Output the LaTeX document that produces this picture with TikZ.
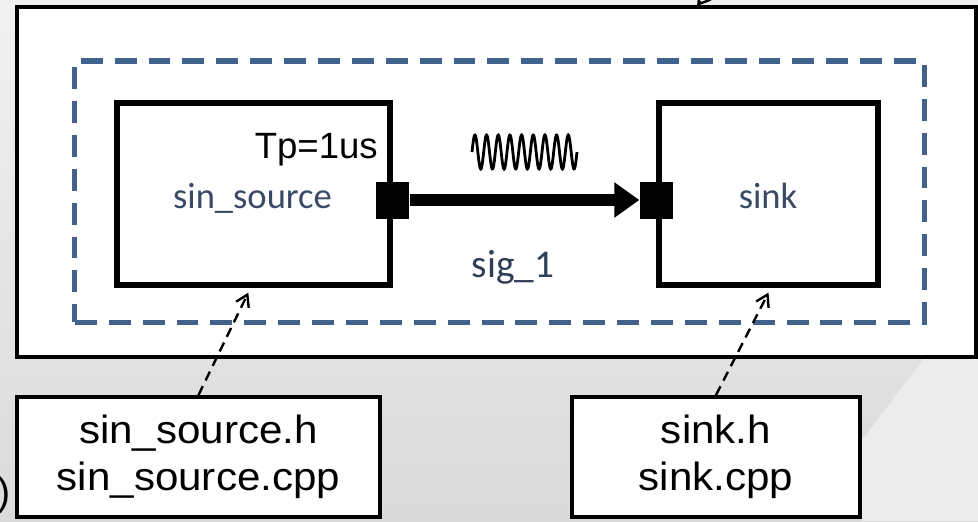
\documentclass[tikz,border=0pt]{standalone}
\usepackage{fontspec}
\setmainfont{Liberation Sans}
\newfontfamily\calib{Carlito}
\newfontfamily\filefont[FakeStretch=1.07]{Liberation Sans}
\usetikzlibrary{arrows.meta,positioning}
\definecolor{groupblue}{HTML}{41628D}
\definecolor{modtext}{HTML}{3A4966}
\definecolor{slidetop}{HTML}{F1F1F1}
\definecolor{slidebot}{HTML}{DADADA}
\definecolor{swoosh}{HTML}{ECECEC}

\begin{document}
\begin{tikzpicture}[
  x=0.025cm, y=-0.025cm,
  frame/.style={draw, line width=2.8pt, fill=white, minimum width=23.975cm, minimum height=8.75cm, inner sep=0pt},
  group/.style={draw=groupblue, line width=3.6pt, dash pattern=on 15.6pt off 8.5pt, minimum width=21.225cm, minimum height=6.525cm, inner sep=0pt},
  module/.style={draw, line width=4pt, minimum height=4.55cm, inner sep=0pt},
  port/.style={fill=black, minimum width=0.825cm, minimum height=0.925cm, inner sep=0pt},
  files/.style={draw, line width=2.8pt, fill=white, minimum height=3cm, inner sep=0pt, align=center, font=\filefont\fontsize{28}{33}\selectfont},
  modlabel/.style={font=\calib\fontsize{26}{30}\selectfont, text=modtext, inner sep=0pt, anchor=base},
  signal/.style={-{Triangle[length=17.8pt,width=24pt]}, line width=8.5pt},
  ref/.style={-{Straight Barb[length=8pt,width=10pt]}, line width=1.7pt, dash pattern=on 7pt off 4.5pt},
  wave/.style={line width=2pt}
]
\useasboundingbox (0,0) rectangle (978,521);
\clip (0,0) rectangle (978,521);
\fill[top color=slidetop, bottom color=slidebot] (0,0) rectangle (978,521);
\fill[swoosh] (925,357) -- (862,440) -- (862,521) -- (978,521) -- (978,357) -- cycle;

\node[frame] (frame) at (496.5,182) {};
\node[group] (group) at (499.5,191.5) {};
\node[module, minimum width=6.825cm] (src) at (253.5,194) {};
\node[module, minimum width=5.475cm] (snk) at (768.5,194) {};
\node[port, yshift=-0.15cm] (srcport) at (src.east) {};
\node[port, yshift=-0.15cm] (snkport) at (snk.west) {};

\node[font=\fontsize{26}{30}\selectfont, inner sep=0pt, anchor=base east] (period) at (378,158) {Tp=1us};
\node[modlabel] (srclabel) at (252.5,208) {sin\_source};
\node[modlabel] (snklabel) at (768,208) {sink};
\node[modlabel, font=\calib\fontsize{28}{32}\selectfont, text=modtext!85!black] (siglabel) at (513,277) {sig\_1};

\draw[signal] (srcport) -- (snkport);
\draw[wave] plot[domain=0:105, samples=240] ({472+\x},{152-17*sin(\x*30.857)});

\node[files, minimum width=9.075cm] (srcfiles) at (198.5,457) {sin\_source.h\\sin\_source.cpp};
\node[files, minimum width=7.2cm] (snkfiles) at (716,457) {sink.h\\sink.cpp};

\draw[ref] (srcfiles.north) -- ([xshift=-0.13cm, yshift=-0.12cm]src.south);
\draw[ref] (snkfiles.north) -- ([yshift=-0.12cm]snk.south);

\coordinate (above) at (740,-50);
\coordinate (hdr) at (697,6);
\draw[ref] (above) -- (hdr);
\node[font=\fontsize{28}{33}\selectfont, inner sep=0pt, anchor=base east] (paren) at (11,505) {)};
\end{tikzpicture}
\end{document}
